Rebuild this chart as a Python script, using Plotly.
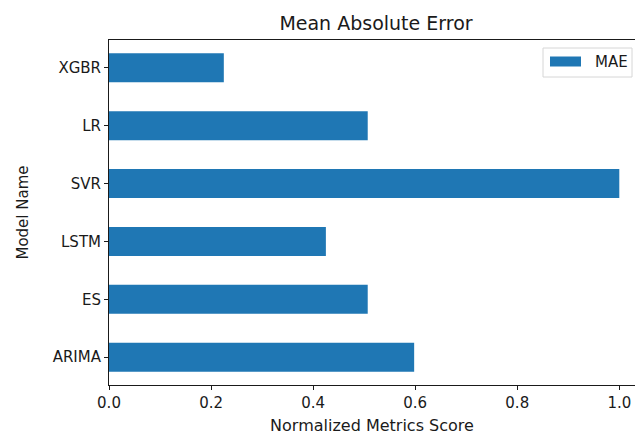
import plotly.graph_objects as go

# Data (bottom to top)
models = ["ARIMA", "ES", "LSTM", "SVR", "LR", "XGBR"]
mae = [0.598, 0.507, 0.425, 1.0, 0.507, 0.225]
x_ticks = [0.0, 0.2, 0.4, 0.6, 0.8, 1.0]
x_tick_labels = ["0.0", "0.2", "0.4", "0.6", "0.8", "1.0"]
legend_label = "MAE"

FONT = "DejaVu Sans"
BLUE = "#1f77b4"
TXT = "#1a1a1a"
W, H = 635, 435
L, R, T, B = 109, 0, 40, 50
PW, PH = W - L - R, H - T - B

fig = go.Figure()
fig.add_trace(go.Bar(
    x=mae, y=models, orientation="h", name=legend_label,
    marker=dict(color=BLUE, line=dict(width=0)),
    width=0.5, showlegend=False,
))

# pixel -> plot-area ("paper") fraction
def px_x(p):
    return (p - L) / PW

def px_y(p):
    return 1 - (p - T) / PH

# legend drawn as decoration (box, patch, label), matplotlib style
fig.add_shape(type="rect", xref="paper", yref="paper",
              x0=px_x(543), x1=px_x(632), y0=px_y(77), y1=px_y(48),
              line=dict(color="#d6d6d6", width=1), fillcolor="white", layer="above")
fig.add_shape(type="rect", xref="paper", yref="paper",
              x0=px_x(550), x1=px_x(581), y0=px_y(66.5), y1=px_y(56.5),
              line=dict(width=0), fillcolor=BLUE, layer="above")
fig.add_annotation(text=legend_label, xref="paper", yref="paper",
                   x=px_x(593), y=px_y(62), xanchor="left", yanchor="middle",
                   showarrow=False, font=dict(size=15, color=TXT, family=FONT))

fig.update_layout(
    width=W, height=H,
    margin=dict(l=L, r=R, t=T, b=B, autoexpand=False),
    paper_bgcolor="white", plot_bgcolor="white",
    font=dict(family=FONT, color=TXT, size=15),
    title=dict(text="Mean Absolute Error", x=376 / W, xanchor="center",
               y=1 - 23 / H, yanchor="middle", font=dict(size=19, color=TXT)),
    showlegend=False,
)
fig.update_xaxes(
    range=[0, PW / 510.3], tickvals=x_ticks, ticktext=x_tick_labels,
    showgrid=False, zeroline=False, showline=True, linecolor=TXT, linewidth=1,
    mirror=True, ticks="outside", ticklen=4, tickcolor=TXT, automargin=False,
    tickfont=dict(size=15, color=TXT),
    title=dict(text="Normalized Metrics Score", font=dict(size=16, color=TXT), standoff=8),
)
fig.update_yaxes(
    type="category", categoryorder="array", categoryarray=models,
    range=[-0.48, 5.48], automargin=False,
    showgrid=False, zeroline=False, showline=True, linecolor=TXT, linewidth=1,
    ticks="outside", ticklen=4, tickcolor=TXT,
    tickfont=dict(size=15, color=TXT),
    title=dict(text="Model Name", font=dict(size=15, color=TXT), standoff=20),
)

fig.write_html(
    "out.html",
    config={"displayModeBar": False},
    post_script="document.body.style.margin='0';document.body.style.overflow='hidden';",
)
